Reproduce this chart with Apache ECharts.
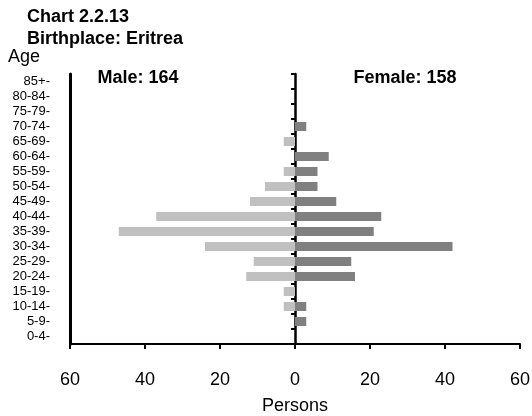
<!DOCTYPE html>
<html>
<head>
<meta charset="utf-8">
<script src="https://cdn.jsdelivr.net/npm/echarts@6/dist/echarts.min.js"></script>
<style>
html,body{margin:0;padding:0;background:#fff;}
#chart{width:532px;height:416px;}
</style>
</head>
<body>
<div id="chart"></div>
<script>
const ageGroups = ['0-4','5-9','10-14','15-19','20-24','25-29','30-34','35-39','40-44','45-49','50-54','55-59','60-64','65-69','70-74','75-79','80-84','85+'];
const maleValues = [0,0,3,3,13,11,24,47,37,12,8,3,0,3,0,0,0,0];
const femaleValues = [0,3,3,0,16,15,42,21,23,11,6,6,9,0,3,0,0,0];
const xTicks = [-60,-40,-20,0,20,40,60];
const titleLines = ['Chart 2.2.13','Birthplace: Eritrea'];
const maleLabel = 'Male: 164';
const femaleLabel = 'Female: 158';

const FONT = 'Liberation Sans, Arial, Helvetica, sans-serif';
const chart = echarts.init(document.getElementById('chart'), null, {renderer:'canvas'});
chart.setOption({
  animation:false,
  backgroundColor:'#ffffff',
  textStyle:{fontFamily:FONT,color:'#000'},
  title:[
    {text:titleLines.join('\n'),left:27,top:6,padding:0,textStyle:{fontFamily:FONT,fontSize:18,fontWeight:'bold',color:'#000',lineHeight:22}},
    {text:'Age',left:8,top:47,padding:0,textStyle:{fontFamily:FONT,fontSize:18,fontWeight:'normal',color:'#000',lineHeight:20}},
    {text:maleLabel,left:138,textAlign:'center',top:68,padding:0,textStyle:{fontFamily:FONT,fontSize:18,fontWeight:'bold',color:'#000',lineHeight:20}},
    {text:femaleLabel,left:405,textAlign:'center',top:68,padding:0,textStyle:{fontFamily:FONT,fontSize:18,fontWeight:'bold',color:'#000',lineHeight:20}}
  ],
  grid:{left:70,right:12,top:74,bottom:72,containLabel:false,outerBoundsMode:'none'},
  xAxis:{
    type:'value',min:xTicks[0],max:xTicks[xTicks.length-1],interval:20,
    splitLine:{show:false},
    axisLine:{show:true,onZero:false,lineStyle:{color:'#000',width:2}},
    axisTick:{show:true,length:5,lineStyle:{color:'#000',width:2}},
    axisLabel:{margin:27,fontSize:18,color:'#000',fontFamily:FONT,formatter:v=>String(Math.abs(v))},
    name:'Persons',nameLocation:'middle',nameGap:53,
    nameTextStyle:{fontSize:18,color:'#000',fontFamily:FONT}
  },
  yAxis:[
    {
      type:'category',data:ageGroups,position:'left',
      axisLine:{show:true,onZero:false,lineStyle:{color:'#000',width:3}},
      axisTick:{show:false},
      axisLabel:{interval:0,margin:20,fontSize:13,color:'#000',fontFamily:FONT,formatter:v=>v+'-'},
      splitLine:{show:false}
    },
    {
      type:'category',data:ageGroups,position:'left',
      axisLine:{show:true,onZero:true,lineStyle:{color:'#000',width:2.5}},
      axisTick:{show:true,interval:0,length:4,alignWithLabel:false,lineStyle:{color:'#000',width:2}},
      axisLabel:{show:false,interval:0},
      splitLine:{show:false}
    }
  ],
  series:[
    {
      name:'Male',type:'bar',yAxisIndex:0,barWidth:9,barGap:'-100%',
      data:maleValues.map(v=>-v),
      itemStyle:{color:'#c0c0c0'}
    },
    {
      name:'Female',type:'bar',yAxisIndex:0,barWidth:9,barGap:'-100%',
      data:femaleValues,
      itemStyle:{color:'#808080'}
    }
  ]
});
</script>
</body>
</html>
